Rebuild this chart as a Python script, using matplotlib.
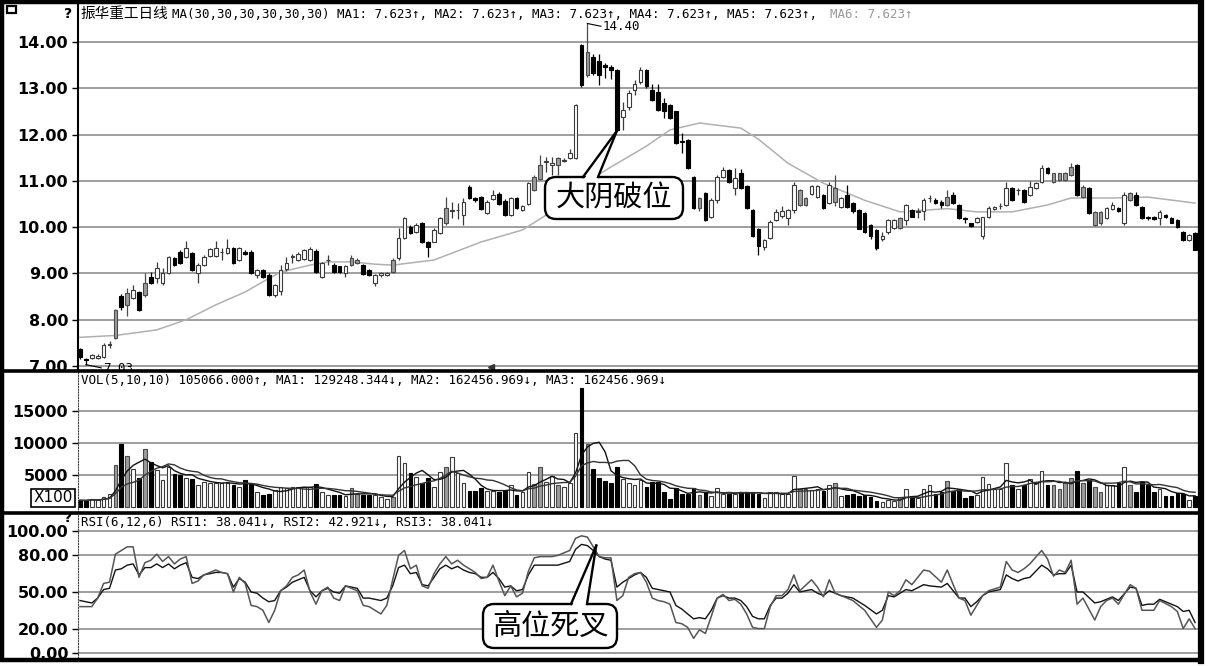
import numpy as np
import pandas as pd
import matplotlib
matplotlib.use("Agg")
import matplotlib.pyplot as plt
from matplotlib.patches import FancyBboxPatch, Polygon, Rectangle

W, H = 1208, 666

# ---------------- data ----------------
opens = [
    7.36, 7.16, 7.17, 7.18, 7.20, 7.46, 7.60, 8.51, 8.32, 8.46,
    8.60, 8.53, 8.93, 8.90, 8.79, 9.00, 9.33, 9.47, 9.36, 9.44,
    9.00, 9.18, 9.38, 9.38, 9.46, 9.45, 9.56, 9.28, 9.47, 9.47,
    8.97, 9.07, 8.97, 8.54, 8.61, 9.09, 9.35, 9.29, 9.31, 9.29,
    9.49, 8.93, 9.28, 9.18, 9.15, 9.00, 9.18, 9.22, 9.18, 9.07,
    8.79, 8.97, 8.97, 9.04, 9.33, 9.76, 10.01, 9.90, 10.08, 9.67,
    9.69, 9.87, 10.08, 10.35, 10.36, 10.26, 10.86, 10.62, 10.66, 10.30,
    10.60, 10.72, 10.57, 10.26, 10.62, 10.37, 10.51, 10.80, 11.05, 11.40,
    11.35, 11.34, 11.43, 11.49, 11.49, 13.94, 13.29, 13.68, 13.58, 13.50,
    13.46, 13.39, 12.39, 12.60, 12.96, 13.14, 13.39, 12.96, 12.93, 12.68,
    12.64, 12.50, 11.87, 11.88, 11.09, 10.41, 10.73, 10.23, 10.59, 11.09,
    11.24, 10.84, 11.16, 10.88, 10.37, 9.97, 9.58, 9.76, 10.16, 10.25,
    10.19, 10.37, 10.48, 10.48, 10.71, 10.66, 10.69, 10.52, 10.55, 10.44,
    10.69, 10.52, 10.37, 10.30, 10.05, 9.94, 9.75, 9.90, 9.98, 9.98,
    10.16, 10.37, 10.33, 10.34, 10.62, 10.59, 10.55, 10.48, 10.69, 10.48,
    10.19, 10.08, 10.12, 9.80, 10.23, 10.40, 10.45, 10.48, 10.84, 10.80,
    10.80, 10.69, 10.84, 10.98, 11.27, 10.98, 11.02, 11.02, 11.13, 11.34,
    10.66, 10.84, 10.05, 10.08, 10.19, 10.40, 10.41, 10.08, 10.59, 10.69,
    10.44, 10.22, 10.23, 10.19, 10.26, 10.20, 10.16, 9.90, 9.72, 9.87,
]
closes = [
    7.20, 7.13, 7.24, 7.22, 7.45, 7.48, 8.21, 8.27, 8.57, 8.64,
    8.21, 8.79, 8.79, 9.11, 9.00, 9.35, 9.18, 9.22, 9.54, 9.07,
    9.18, 9.36, 9.52, 9.54, 9.47, 9.55, 9.23, 9.56, 9.42, 9.00,
    9.07, 8.93, 8.54, 8.75, 9.07, 9.22, 9.37, 9.41, 9.51, 9.52,
    9.04, 9.22, 9.29, 9.04, 9.04, 9.15, 9.33, 9.30, 8.99, 8.97,
    8.97, 9.00, 9.02, 9.30, 9.76, 10.19, 9.87, 10.05, 9.67, 9.58,
    9.94, 10.19, 10.41, 10.37, 10.37, 10.55, 10.62, 10.58, 10.40, 10.55,
    10.70, 10.50, 10.26, 10.62, 10.41, 10.46, 10.95, 11.08, 11.34, 11.42,
    11.38, 11.49, 11.46, 11.60, 12.64, 13.07, 13.79, 13.32, 13.29, 13.45,
    13.40, 12.10, 12.53, 12.89, 13.10, 13.39, 13.04, 12.75, 12.53, 12.50,
    12.35, 11.81, 11.85, 11.27, 10.41, 10.62, 10.16, 10.59, 11.09, 11.24,
    10.98, 11.06, 10.84, 10.41, 9.80, 9.60, 9.72, 10.12, 10.33, 10.35,
    10.37, 10.91, 10.80, 10.62, 10.88, 10.88, 10.41, 10.92, 10.84, 10.62,
    10.44, 10.34, 9.97, 9.90, 9.80, 9.54, 9.80, 10.16, 10.16, 10.19,
    10.48, 10.23, 10.34, 10.59, 10.63, 10.52, 10.48, 10.66, 10.52, 10.19,
    10.18, 10.03, 10.20, 10.21, 10.41, 10.43, 10.46, 10.84, 10.59, 10.81,
    10.55, 10.87, 10.95, 11.27, 11.16, 11.16, 11.16, 11.16, 11.31, 10.69,
    10.87, 10.30, 10.33, 10.33, 10.41, 10.48, 10.34, 10.69, 10.73, 10.48,
    10.19, 10.19, 10.18, 10.33, 10.23, 10.10, 10.01, 9.72, 9.83, 9.51,
]
highs = [
    7.38, 7.18, 7.26, 7.25, 7.50, 7.55, 8.23, 8.55, 8.68, 8.75,
    8.62, 9.00, 9.04, 9.25, 9.11, 9.37, 9.35, 9.50, 9.71, 9.46,
    9.22, 9.40, 9.55, 9.71, 9.54, 9.74, 9.58, 9.58, 9.50, 9.50,
    9.10, 9.10, 9.00, 8.78, 9.18, 9.35, 9.43, 9.47, 9.53, 9.58,
    9.52, 9.25, 9.40, 9.22, 9.17, 9.18, 9.40, 9.33, 9.20, 9.10,
    8.99, 9.03, 9.04, 9.33, 9.98, 10.21, 10.05, 10.08, 10.12, 9.70,
    9.98, 10.22, 10.66, 10.55, 10.52, 10.62, 10.90, 10.65, 10.68, 10.58,
    10.80, 10.75, 10.60, 10.65, 10.65, 10.48, 10.98, 11.12, 11.55, 11.52,
    11.52, 11.52, 11.50, 11.69, 12.66, 13.96, 14.40, 13.75, 13.75, 13.54,
    13.50, 13.41, 12.71, 12.96, 13.18, 13.46, 13.41, 13.10, 13.10, 12.78,
    12.66, 12.52, 12.03, 11.90, 11.11, 10.66, 10.75, 10.62, 11.12, 11.31,
    11.26, 11.27, 11.25, 10.90, 10.40, 9.99, 9.74, 10.16, 10.40, 10.45,
    10.40, 10.98, 10.82, 10.65, 10.92, 10.92, 10.72, 10.98, 11.12, 10.65,
    10.90, 10.55, 10.40, 10.32, 10.07, 9.96, 9.90, 10.18, 10.18, 10.21,
    10.50, 10.40, 10.42, 10.62, 10.70, 10.62, 10.58, 10.80, 10.75, 10.50,
    10.22, 10.10, 10.23, 10.23, 10.45, 10.46, 10.52, 10.98, 10.87, 10.85,
    10.82, 11.00, 10.98, 11.34, 11.30, 11.18, 11.18, 11.20, 11.38, 11.36,
    10.90, 10.86, 10.35, 10.35, 10.44, 10.55, 10.44, 10.76, 10.76, 10.76,
    10.46, 10.24, 10.25, 10.36, 10.28, 10.22, 10.18, 9.92, 9.85, 9.89,
]
lows = [
    7.15, 7.03, 7.15, 7.15, 7.18, 7.40, 7.58, 8.22, 8.07, 8.44,
    8.19, 8.50, 8.77, 8.79, 8.75, 8.98, 9.16, 9.20, 9.33, 9.05,
    8.79, 9.15, 9.36, 9.36, 9.29, 9.43, 9.20, 9.26, 9.40, 8.98,
    8.90, 8.90, 8.52, 8.50, 8.54, 9.05, 9.22, 9.27, 9.30, 9.27,
    9.02, 8.90, 9.18, 9.02, 9.02, 8.93, 9.15, 9.20, 8.97, 8.95,
    8.72, 8.92, 8.95, 9.00, 9.30, 9.74, 9.85, 9.88, 9.65, 9.36,
    9.67, 9.85, 10.05, 10.20, 10.18, 10.05, 10.60, 10.55, 10.38, 10.28,
    10.58, 10.48, 10.24, 10.24, 10.39, 10.34, 10.48, 10.78, 11.02, 11.20,
    11.12, 11.13, 11.40, 11.47, 11.47, 13.03, 13.25, 13.29, 13.07, 13.22,
    13.20, 12.08, 12.10, 12.53, 12.86, 13.10, 13.00, 12.72, 12.50, 12.35,
    12.33, 11.79, 11.60, 11.25, 10.39, 10.34, 10.14, 10.20, 10.52, 11.07,
    10.96, 10.70, 10.82, 10.39, 9.78, 9.40, 9.50, 9.74, 10.14, 10.20,
    10.05, 10.30, 10.46, 10.46, 10.69, 10.64, 10.39, 10.50, 10.45, 10.42,
    10.42, 10.30, 9.95, 9.88, 9.75, 9.50, 9.70, 9.85, 9.96, 9.96,
    10.05, 10.21, 10.20, 10.15, 10.55, 10.50, 10.42, 10.46, 10.50, 10.17,
    10.08, 10.00, 10.10, 9.74, 10.20, 10.38, 10.40, 10.46, 10.57, 10.70,
    10.52, 10.67, 10.82, 10.96, 11.14, 10.96, 11.00, 11.00, 11.10, 10.67,
    10.64, 10.28, 10.02, 10.05, 10.17, 10.38, 10.32, 10.05, 10.57, 10.46,
    10.17, 10.15, 10.15, 10.05, 10.20, 10.08, 9.99, 9.70, 9.70, 9.50,
]
volumes = [  # x100 shares
    1050, 1000, 1300, 1050, 1600, 2000, 6600, 9900, 8000, 6000,
    4500, 9000, 7100, 5800, 4200, 6200, 5100, 5000, 4600, 4300,
    3400, 3900, 3800, 3800, 3800, 3700, 3400, 3200, 4200, 3600,
    2400, 1800, 2100, 2600, 3200, 3000, 3100, 3100, 3100, 3100,
    3600, 2400, 1800, 1800, 1800, 1700, 2900, 2100, 1800, 1800,
    1800, 1600, 1300, 1600, 8000, 6900, 5300, 4700, 3700, 4500,
    3200, 5500, 6300, 7800, 5300, 3700, 2500, 2500, 2900, 2500,
    2500, 2400, 2500, 3400, 1800, 2400, 5500, 3600, 6200, 3900,
    4800, 3400, 3200, 3700, 11500, 18600, 9900, 6000, 4600, 4000,
    3800, 6300, 4300, 3700, 3400, 4200, 3200, 3900, 3900, 2400,
    1300, 2900, 2100, 2000, 3000, 1840, 2370, 1680, 2900, 2000,
    2000, 2100, 2370, 2370, 2370, 2000, 1470, 2370, 2370, 2100,
    2000, 4840, 2740, 2890, 2630, 2740, 2520, 3420, 3790, 1680,
    1840, 2100, 1680, 1840, 1580, 950, 800, 1150, 950, 1580,
    2740, 1680, 1470, 2890, 3420, 2100, 2370, 4100, 2520, 2740,
    1470, 1680, 1840, 4630, 3580, 2740, 2890, 6940, 3420, 2890,
    3420, 4310, 3680, 5680, 3420, 3420, 2890, 3950, 4470, 5680,
    3680, 4200, 3160, 2370, 3420, 3420, 3680, 6310, 3420, 2370,
    3950, 3420, 2370, 2890, 1680, 1680, 2200, 2100, 1050, 1680,
]
gray_candles = [6, 8, 11, 46, 47, 53, 62, 77, 78, 81, 86, 105, 122, 123, 128,
                139, 147, 165, 166, 167, 168, 170, 172, 173, 178]

ma30_idx = [0, 6, 13, 18, 23, 28, 31, 34, 39, 42, 46, 50, 53, 60, 68, 75, 79, 85,
            90, 96, 100, 105, 112, 115, 120, 126, 133, 139, 147, 152, 158, 164,
            168, 175, 181, 189]
ma30_val = [7.62, 7.66, 7.78, 8.00, 8.32, 8.60, 8.82, 9.03, 9.18, 9.25, 9.25, 9.20,
            9.18, 9.29, 9.68, 9.94, 10.26, 10.91, 11.30, 11.75, 12.10, 12.25, 12.14,
            11.90, 11.38, 10.95, 10.58, 10.33, 10.40, 10.33, 10.33, 10.48, 10.63,
            10.63, 10.65, 10.52]

rsi_idx = [0, 2, 3, 4, 5, 6, 7, 8, 9, 10, 11, 12, 13, 14, 15, 16, 17, 18, 19, 20,
           21, 23, 24, 25, 26, 27, 28, 29, 30, 31, 32, 33, 34, 35, 36, 37, 38, 39, 40,
           41, 42, 43, 44, 45, 47, 48, 49, 50, 51, 52, 53, 54, 55, 56, 57, 58, 59, 60,
           61, 62, 63, 64, 65, 66, 67, 68, 69, 70, 71, 72, 73, 74, 75, 76, 77, 78, 80,
           81, 83, 84, 85, 86, 87, 88, 89, 90, 91, 92, 93, 94, 95, 96, 97, 98, 99, 100,
           101, 102, 103, 104, 105, 106, 107, 108, 109, 110, 111, 112, 113, 114, 115,
           116, 117, 118, 119, 120, 121, 122, 124, 125, 126, 127, 128, 129, 131, 132,
           133, 135, 136, 137, 138, 139, 140, 141, 143, 144, 146, 147, 148, 149, 150,
           151, 152, 153, 154, 156, 157, 158, 159, 160, 161, 163, 164, 165, 166, 167,
           168, 169, 170, 172, 173, 174, 175, 176, 178, 179, 180, 181, 182, 183, 185,
           186, 187, 188, 189]
rsi1 = [38, 38, 45, 57, 58, 81, 84, 87, 87, 62, 74, 76, 81, 75, 79, 73, 77, 79, 57, 59,
        64, 68, 66, 65, 50, 62, 57, 39, 38, 35, 25, 35, 51, 55, 62, 64, 68, 50, 40,
        51, 54, 45, 43, 55, 51, 39, 38, 35, 32, 39, 60, 80, 84, 69, 72, 55, 53, 65,
        73, 79, 73, 76, 72, 69, 66, 61, 62, 72, 59, 47, 55, 46, 49, 67, 78, 79, 79,
        80, 84, 94, 96, 95, 87, 79, 78, 78, 43, 47, 62, 65, 66, 58, 45, 43, 42, 40,
        25, 24, 21, 12, 19, 16, 30, 45, 48, 43, 44, 40, 32, 21, 20,
        20, 38, 47, 47, 52, 64, 51, 60, 54, 46, 60, 49, 47, 43, 39,
        35, 21, 27, 50, 47, 51, 60, 56, 68, 67, 58, 68, 56, 45, 43,
        31, 39, 47, 51, 54, 75, 68, 66, 69, 73, 84, 77, 63, 68, 66,
        76, 40, 45, 27, 38, 43, 45, 40, 56, 53, 35, 35, 35, 43, 38,
        34, 20, 28, 20]
rsi2 = [43, 41, 45, 52, 53, 68, 69, 72, 73, 64, 70, 70, 73, 70, 73, 69, 72, 74, 62, 61,
        64, 66, 66, 65, 54, 61, 58, 50, 49, 45, 42, 43, 51, 54, 58, 60, 62, 51, 46,
        51, 53, 50, 49, 55, 53, 45, 45, 44, 43, 45, 55, 70, 72, 65, 66, 56, 55, 62,
        69, 72, 69, 71, 68, 66, 65, 62, 62, 66, 61, 54, 55, 51, 52, 64, 72, 72, 72,
        72, 75, 85, 89, 88, 84, 79, 77, 76, 54, 58, 61, 64, 66, 62, 53, 52, 51, 50,
        39, 36, 32, 28, 29, 28, 35, 45, 47, 45, 45, 43, 38, 30, 28,
        28, 39, 45, 45, 49, 56, 50, 52, 49, 47, 51, 49, 47, 45, 42,
        39, 32, 35, 47, 46, 49, 52, 51, 56, 55, 54, 57, 51, 45, 45,
        38, 42, 47, 50, 52, 64, 61, 59, 61, 62, 72, 69, 64, 65, 65,
        72, 50, 50, 41, 42, 44, 46, 43, 54, 53, 39, 40, 40, 44, 40,
        38, 34, 35, 25]

price_ticks = [7, 8, 9, 10, 11, 12, 13, 14]
vol_ticks = [5000, 10000, 15000]
rsi_ticks = [0, 20, 50, 80, 100]

# ---------------- figure ----------------
o = np.array(opens); c = np.array(closes); hi = np.array(highs); lo = np.array(lows)
vol = np.array(volumes, dtype=float)
n = len(c)
xs = np.arange(n)
gray_set = set(gray_candles)

fig = plt.figure(figsize=(W / 100, H / 100), dpi=100)
fig.patch.set_facecolor("white")


def axrect(top, bottom, left=78, right=1198):
    return [left / W, 1 - bottom / H, (right - left) / W, (bottom - top) / H]


ax1 = fig.add_axes(axrect(4, 370))
ax2 = fig.add_axes(axrect(372, 512))
ax3 = fig.add_axes(axrect(514, 658))

XL = (-0.34, 189.5)
GRID = "#8e8e8e"
lab_font = dict(family="DejaVu Sans", weight="bold", size=11.5)
mono = ["DejaVu Sans Mono", "Noto Sans CJK SC"]

for ax in (ax1, ax2, ax3):
    ax.set_xlim(*XL)
    ax.set_xticks([])
    for s in ("top", "right", "bottom"):
        ax.spines[s].set_visible(False)
    ax.tick_params(axis="y", direction="out", length=4, width=1, pad=3)
    ax.set_facecolor("white")

ax1.spines["left"].set_color("black"); ax1.spines["left"].set_linewidth(1.5)
for ax in (ax2, ax3):
    ax.spines["left"].set_linestyle((0, (1, 1.5)))
    ax.spines["left"].set_color("#444")


def style_of(i):
    if i in gray_set:
        return "#9c9c9c", "#4a4a4a"
    if c[i] >= o[i]:
        return "white", "#3a3a3a"
    return "black", "black"


# ---- price panel ----
ax1.set_ylim(6.914, 14.821)
ax1.set_yticks(price_ticks)
ax1.set_yticklabels([f"{t:.2f}" for t in price_ticks], fontdict=lab_font)
for t in price_ticks:
    ax1.axhline(t, color=GRID, lw=1.2, zorder=0)
ax1.plot(ma30_idx, ma30_val, color="#b0b0b0", lw=1.1, zorder=1)
bw = 0.62
for i in range(n):
    fc, ec = style_of(i)
    ax1.vlines(i, lo[i], hi[i], color=ec, lw=0.9, zorder=2)
    bot = min(o[i], c[i])
    ht = max(abs(c[i] - o[i]), 0.012)
    ax1.add_patch(Rectangle((i - bw / 2, bot), bw, ht, fc=fc, ec=ec, lw=0.8, zorder=3))

imax = int(np.argmax(hi)); imin = int(np.argmin(lo))
ax1.plot([imax, imax + 2.3], [hi[imax], hi[imax] - 0.06], color="black", lw=0.8, zorder=4)
ax1.text(imax + 2.5, hi[imax] - 0.07, f"{hi[imax]:.2f}", family=mono, size=9,
         va="center", ha="left", zorder=4)
ax1.plot([imin, imin + 2.6], [lo[imin], lo[imin] - 0.07], color="black", lw=0.8, zorder=4)
ax1.text(imin + 2.9, lo[imin] - 0.075, f"{lo[imin]:.2f}", family=mono, size=9,
         va="center", ha="left", zorder=4, clip_on=True)

# ---- volume panel ----
ax2.set_ylim(-781, 21094)
ax2.set_yticks(vol_ticks)
ax2.set_yticklabels([str(t) for t in vol_ticks], fontdict=lab_font)
for t in vol_ticks:
    ax2.axhline(t, color=GRID, lw=1.2, zorder=0)
for i in range(n):
    fc, ec = style_of(i)
    ax2.add_patch(Rectangle((i - bw / 2, 0), bw, vol[i], fc=fc, ec=ec, lw=0.8, zorder=2))
vs = pd.Series(vol)
ax2.plot(xs, vs.rolling(5, min_periods=1).mean(), color="#111", lw=1.0, zorder=3)
ax2.plot(xs, vs.rolling(10, min_periods=1).mean(), color="#333", lw=1.0, zorder=3)

# ---- RSI panel ----
ax3.set_ylim(-4.1, 113.9)
ax3.set_yticks(rsi_ticks)
ax3.set_yticklabels([f"{t:.2f}" for t in rsi_ticks], fontdict=lab_font)
for t in rsi_ticks:
    ax3.axhline(t, color=GRID, lw=1.2, zorder=0)
ax3.plot(rsi_idx, rsi2, color="#111", lw=1.0, zorder=2)
ax3.plot(rsi_idx, rsi1, color="#555", lw=1.1, zorder=3)

# ---------------- overlay in pixel coordinates ----------------
ov = fig.add_axes([0, 0, 1, 1], zorder=10)
ov.set_xlim(0, W); ov.set_ylim(H, 0); ov.axis("off"); ov.patch.set_alpha(0)


def to_px(ax, xv, yv):
    dx, dy = ax.transData.transform((xv, yv))
    return dx, H - dy


# frame and separators
ov.add_patch(Rectangle((1.5, 1.5), 1199, 658, fill=False, ec="black", lw=3.2, zorder=30))
ov.plot([1200.5, 1200.5], [0, 661], color="black", lw=4.5, zorder=30)
ov.plot([0, 1201], [371, 371], color="black", lw=2.6, zorder=30)
ov.plot([0, 1201], [513, 513], color="black", lw=2.6, zorder=30)

# header texts
ov.text(80, 14, "振华重工日线", family=["Noto Sans CJK SC", "DejaVu Sans"], size=10.5,
        va="center", ha="left")
ov.text(172, 14, "MA(30,30,30,30,30,30) MA1: 7.623↑, MA2: 7.623↑, MA3: 7.623↑, "
        "MA4: 7.623↑, MA5: 7.623↑,", family=mono, size=9, va="center", ha="left")
ov.text(830, 14, "MA6: 7.623↑", family=mono, size=9, va="center", ha="left", color="#9a9a9a")
ov.text(81, 380, "VOL(5,10,10) 105066.000↑, MA1: 129248.344↓, MA2: 162456.969↓, "
        "MA3: 162456.969↓", family=mono, size=9, va="center", ha="left")
ov.text(81, 522, "RSI(6,12,6) RSI1: 38.041↓, RSI2: 42.921↓, RSI3: 38.041↓",
        family=mono, size=9, va="center", ha="left")

# small UI marks
ov.add_patch(Rectangle((7, 6), 9, 7, fill=False, ec="black", lw=1.6, zorder=31))
ov.text(68, 14, "?", family="DejaVu Sans", weight="bold", size=10, va="center", ha="center")
ov.text(68, 518, "?", family="DejaVu Sans", weight="bold", size=10, va="center", ha="center")
ov.text(53, 498, "X100", family="DejaVu Sans", size=11, va="center", ha="center",
        bbox=dict(boxstyle="square,pad=0.12", fc="white", ec="black", lw=1.2))
ov.plot([491], [367], marker="<", ms=4, color="#333")


def bubble(x0, y0, w, h, b1, b2, tip, text):
    ov.add_patch(FancyBboxPatch((x0, y0), w, h, boxstyle="round,pad=0,rounding_size=11",
                                fc="white", ec="black", lw=1.7, zorder=20))
    ov.add_patch(Polygon([(b1 + 0.8, y0 + 2.5), tip, (b2 - 0.8, y0 + 2.5)], closed=True,
                         fc="white", ec="none", zorder=21))
    ov.plot([b1, tip[0]], [y0, tip[1]], color="black", lw=1.7, zorder=22)
    ov.plot([b2, tip[0]], [y0, tip[1]], color="black", lw=1.7, zorder=22)
    ov.text(x0 + w / 2, y0 + h / 2 + 1, text, family=["Noto Sans CJK SC", "DejaVu Sans"],
            size=21, va="center", ha="center", zorder=23)


big_yin = 91
bubble(545, 177, 138, 42, 583, 598, to_px(ax1, big_yin, lo[big_yin]), "大阴破位")
bubble(483, 604, 134, 44, 571, 587, to_px(ax3, 87.5, 88), "高位死叉")

fig.savefig("out.png", dpi=100, facecolor="white")
